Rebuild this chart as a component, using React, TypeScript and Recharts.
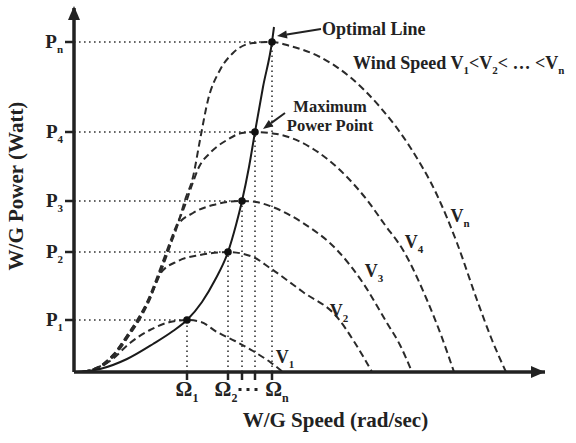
import {
  ComposedChart,
  Label,
  Line,
  ReferenceDot,
  ReferenceLine,
  Scatter,
  XAxis,
  YAxis,
} from "recharts";

// axis ranges (arbitrary units, schematic plot)
const X_MAX = 471;
const Y_MAX = 364;

const OMEGA = [113, 154, 168, 181, 198];
const OMEGA_SUBS = ["1", "2", "", "", "n"];
const POWER = [52, 120, 171, 240, 330];
const POWER_SUBS = ["1", "2", "3", "4", "n"];

const v1Curve = [
  { x: 10, y: 0 }, { x: 22, y: 4 }, { x: 36, y: 11 }, { x: 56, y: 29 }, { x: 76, y: 42 },
  { x: 96, y: 50 }, { x: 113, y: 52 }, { x: 127, y: 50 }, { x: 143, y: 40 }, { x: 161, y: 31 },
  { x: 179, y: 21 }, { x: 196, y: 10 }, { x: 209, y: 0 },
];
const v2Curve = [
  { x: 9, y: 0 }, { x: 27, y: 5 }, { x: 41, y: 17 }, { x: 54, y: 35 }, { x: 67, y: 55 },
  { x: 76, y: 73 }, { x: 86, y: 98 }, { x: 104, y: 111 }, { x: 126, y: 117 }, { x: 154, y: 120 },
  { x: 179, y: 115 }, { x: 196, y: 104 }, { x: 229, y: 80 }, { x: 263, y: 55 }, { x: 281, y: 29 },
  { x: 298, y: 0 },
];
const v3Curve = [
  { x: 8, y: 0 }, { x: 26, y: 6 }, { x: 40, y: 18 }, { x: 53, y: 36 }, { x: 66, y: 56 },
  { x: 75, y: 73 }, { x: 84, y: 93 }, { x: 94, y: 120 }, { x: 103, y: 146 }, { x: 119, y: 159 },
  { x: 139, y: 167 }, { x: 168, y: 171 }, { x: 182, y: 170 }, { x: 196, y: 166 }, { x: 229, y: 149 },
  { x: 263, y: 122 }, { x: 289, y: 89 }, { x: 313, y: 49 }, { x: 326, y: 27 }, { x: 338, y: 0 },
];
const v4Curve = [
  { x: 8, y: 0 }, { x: 25, y: 5 }, { x: 39, y: 17 }, { x: 52, y: 35 }, { x: 65, y: 55 },
  { x: 74, y: 72 }, { x: 82, y: 92 }, { x: 92, y: 119 }, { x: 101, y: 143 }, { x: 110, y: 164 },
  { x: 118, y: 187 }, { x: 125, y: 205 }, { x: 136, y: 219 }, { x: 153, y: 232 }, { x: 168, y: 239 },
  { x: 181, y: 240 }, { x: 203, y: 238 }, { x: 236, y: 225 }, { x: 273, y: 195 }, { x: 293, y: 172 },
  { x: 311, y: 147 }, { x: 329, y: 122 }, { x: 353, y: 72 }, { x: 367, y: 37 }, { x: 380, y: 0 },
];
const vnCurve = [
  { x: 8, y: 0 }, { x: 26, y: 5 }, { x: 40, y: 17 }, { x: 53, y: 35 }, { x: 66, y: 55 },
  { x: 75, y: 72 }, { x: 83, y: 92 }, { x: 93, y: 119 }, { x: 103, y: 145 }, { x: 111, y: 172 },
  { x: 119, y: 195 }, { x: 126, y: 232 }, { x: 134, y: 272 }, { x: 146, y: 302 }, { x: 159, y: 319 },
  { x: 179, y: 329 }, { x: 198, y: 330 }, { x: 216, y: 326 }, { x: 246, y: 315 }, { x: 276, y: 295 },
  { x: 306, y: 265 }, { x: 336, y: 225 }, { x: 363, y: 177 }, { x: 383, y: 129 }, { x: 403, y: 72 },
  { x: 418, y: 32 }, { x: 432, y: 0 },
];
const optimalLine = [
  { x: 3, y: 0 }, { x: 26, y: 3 }, { x: 53, y: 13 }, { x: 79, y: 28 }, { x: 99, y: 41 },
  { x: 113, y: 52 }, { x: 128, y: 70 }, { x: 141, y: 92 }, { x: 154, y: 120 }, { x: 162, y: 147 },
  { x: 168, y: 171 }, { x: 175, y: 205 }, { x: 181, y: 240 }, { x: 189, y: 285 }, { x: 198, y: 330 },
  { x: 200, y: 345 },
];

// label anchors for each curve: [x, y, subscript]
const curveLabels: [number, number, string][] = [
  [211, 9, "1"],
  [265, 55, "2"],
  [300, 95, "3"],
  [340, 124, "4"],
  [386, 150, "n"],
];

const peaks = OMEGA.map((x, i) => ({ x, y: POWER[i] }));

const INK = "#222";
const FONT = "'Liberation Serif', 'Times New Roman', serif";

const curves = [v1Curve, v2Curve, v3Curve, v4Curve, vnCurve];

function PowerTick({ x, y, index }: any) {
  return (
    <text x={x} y={y} dy={6} textAnchor="end" fontFamily={FONT} fontWeight="bold" fontSize={19} fill={INK}>
      P
      <tspan dy={5} fontSize={11}>{POWER_SUBS[index]}</tspan>
    </text>
  );
}

const omegaShift = [0, -2, 0, 0, 5];

function OmegaTick({ x, y, index }: any) {
  if (index === 2) {
    // the "···" between Ω2 and Ωn
    return (
      <g fill={INK}>
        {[-2, 6, 14].map((d) => (
          <rect key={d} x={x + d - 1.5} y={y + 6} width={3} height={3} />
        ))}
      </g>
    );
  }
  if (!OMEGA_SUBS[index]) return <g />;
  return (
    <text x={x + omegaShift[index]} y={y + 14} textAnchor="middle" fontFamily={FONT} fontWeight="bold" fontSize={21} fill={INK}>
      Ω
      <tspan dy={6} fontSize={12}>{OMEGA_SUBS[index]}</tspan>
    </text>
  );
}

function ArrowLine(props: any) {
  const { x1, y1, x2, y2 } = props;
  const a = Math.atan2(y2 - y1, x2 - x1);
  const len = 10;
  const w = 4;
  const bx = x2 - len * Math.cos(a);
  const by = y2 - len * Math.sin(a);
  const px = -Math.sin(a) * w;
  const py = Math.cos(a) * w;
  return (
    <g>
      <line x1={x1} y1={y1} x2={bx} y2={by} stroke={INK} strokeWidth={2} />
      <polygon points={`${x2},${y2} ${bx + px},${by + py} ${bx - px},${by - py}`} fill={INK} />
    </g>
  );
}

function textShape(content: React.ReactNode, anchor: "start" | "middle" | "end", size: number) {
  return (p: any) => (
    <text x={p.cx} y={p.cy} textAnchor={anchor} fontFamily={FONT} fontWeight="bold" fontSize={size} fill={INK}>
      {content}
    </text>
  );
}

export default function App() {
  return (
    <div style={{ width: 576, height: 443, background: "#fff" }}>
      <style>{"body{margin:0}"}</style>
      <ComposedChart width={576} height={443} margin={{ top: 8, right: 31, bottom: 41, left: 14 }}>
        <XAxis
          dataKey="x"
          type="number"
          domain={[0, X_MAX]}
          ticks={OMEGA}
          tick={<OmegaTick />}
          tickSize={8}
          tickLine={{ stroke: INK, strokeWidth: 2.5 }}
          axisLine={{ stroke: INK, strokeWidth: 3.5 }}
          interval={0}
          allowDataOverflow
        >
          <Label
            content={({ viewBox }: any) => (
              <text
                x={viewBox.x + viewBox.width * 0.555}
                y={viewBox.y + 55}
                textAnchor="middle"
                fontFamily={FONT}
                fontWeight="bold"
                fontSize={21}
                fill={INK}
              >
                W/G Speed (rad/sec)
              </text>
            )}
          />
        </XAxis>
        <YAxis
          type="number"
          domain={[0, Y_MAX]}
          ticks={POWER}
          tick={<PowerTick />}
          tickSize={9}
          tickLine={{ stroke: INK, strokeWidth: 2.5 }}
          axisLine={{ stroke: INK, strokeWidth: 3.5 }}
          width={60}
          interval={0}
          allowDataOverflow
        >
          <Label
            content={({ viewBox }: any) => {
              const cx = viewBox.x + 2;
              const cy = viewBox.y + viewBox.height / 2 - 4;
              return (
                <text
                  x={cx}
                  y={cy}
                  transform={`rotate(-90 ${cx} ${cy})`}
                  textAnchor="middle"
                  dominantBaseline="central"
                  fontFamily={FONT}
                  fontWeight="bold"
                  fontSize={21}
                  fill={INK}
                >
                  W/G Power (Watt)
                </text>
              );
            }}
          />
        </YAxis>

        {peaks.map((p, i) => (
          <ReferenceLine
            key={`h${i}`}
            segment={[{ x: 0, y: p.y }, { x: p.x, y: p.y }]}
            stroke="#333"
            strokeWidth={1.6}
            strokeDasharray="1.6 3.4"
          />
        ))}
        {peaks.map((p, i) => (
          <ReferenceLine
            key={`v${i}`}
            segment={[{ x: p.x, y: 0 }, { x: p.x, y: p.y }]}
            stroke="#333"
            strokeWidth={1.6}
            strokeDasharray="1.6 3.4"
          />
        ))}

        {curves.map((c, i) => (
          <Line
            key={`c${i}`}
            data={c}
            dataKey="y"
            type="monotone"
            stroke="#2a2a2a"
            strokeWidth={2}
            strokeDasharray="7 4"
            dot={false}
            activeDot={false}
            isAnimationActive={false}
          />
        ))}
        <Line
          data={optimalLine}
          dataKey="y"
          type="monotone"
          stroke="#1a1a1a"
          strokeWidth={2}
          dot={false}
          activeDot={false}
          isAnimationActive={false}
        />
        <Scatter
          data={peaks}
          dataKey="y"
          isAnimationActive={false}
          shape={(p: any) => <circle cx={p.cx} cy={p.cy} r={3.8} fill="#111" />}
        />

        {/* axis arrowheads */}
        <ReferenceDot
          x={0}
          y={Y_MAX}
          ifOverflow="visible"
          shape={(p: any) => (
            <polygon points={`${p.cx},${p.cy - 2} ${p.cx - 6},${p.cy + 12} ${p.cx + 6},${p.cy + 12}`} fill={INK} />
          )}
        />
        <ReferenceDot
          x={X_MAX}
          y={0}
          ifOverflow="visible"
          shape={(p: any) => (
            <polygon points={`${p.cx},${p.cy} ${p.cx - 14},${p.cy - 6} ${p.cx - 14},${p.cy + 6}`} fill={INK} />
          )}
        />

        {curveLabels.map(([x, y, sub]) => (
          <ReferenceDot
            key={`l${sub}`}
            x={x}
            y={y}
            ifOverflow="visible"
            shape={textShape(
              <>
                V<tspan dy={5} fontSize={11}>{sub}</tspan>
              </>,
              "middle",
              18
            )}
          />
        ))}

        <ReferenceLine segment={[{ x: 247, y: 343 }, { x: 203, y: 336 }]} shape={ArrowLine} ifOverflow="visible" />
        <ReferenceDot x={248} y={337} ifOverflow="visible" shape={textShape("Optimal Line", "start", 18)} />

        <ReferenceLine segment={[{ x: 211, y: 259 }, { x: 189, y: 243 }]} shape={ArrowLine} ifOverflow="visible" />
        <ReferenceDot x={256} y={260} ifOverflow="visible" shape={textShape("Maximum", "middle", 16.5)} />
        <ReferenceDot x={256} y={241} ifOverflow="visible" shape={textShape("Power Point", "middle", 16.5)} />

        <ReferenceDot
          x={279}
          y={303}
          ifOverflow="visible"
          shape={textShape(
            <>
              Wind Speed V<tspan dy={5} fontSize={11}>1</tspan>
              <tspan dy={-5}>&lt;V</tspan>
              <tspan dy={5} fontSize={11}>2</tspan>
              <tspan dy={-5}>&lt; … &lt;V</tspan>
              <tspan dy={5} fontSize={11}>n</tspan>
            </>,
            "start",
            18
          )}
        />
      </ComposedChart>
    </div>
  );
}
